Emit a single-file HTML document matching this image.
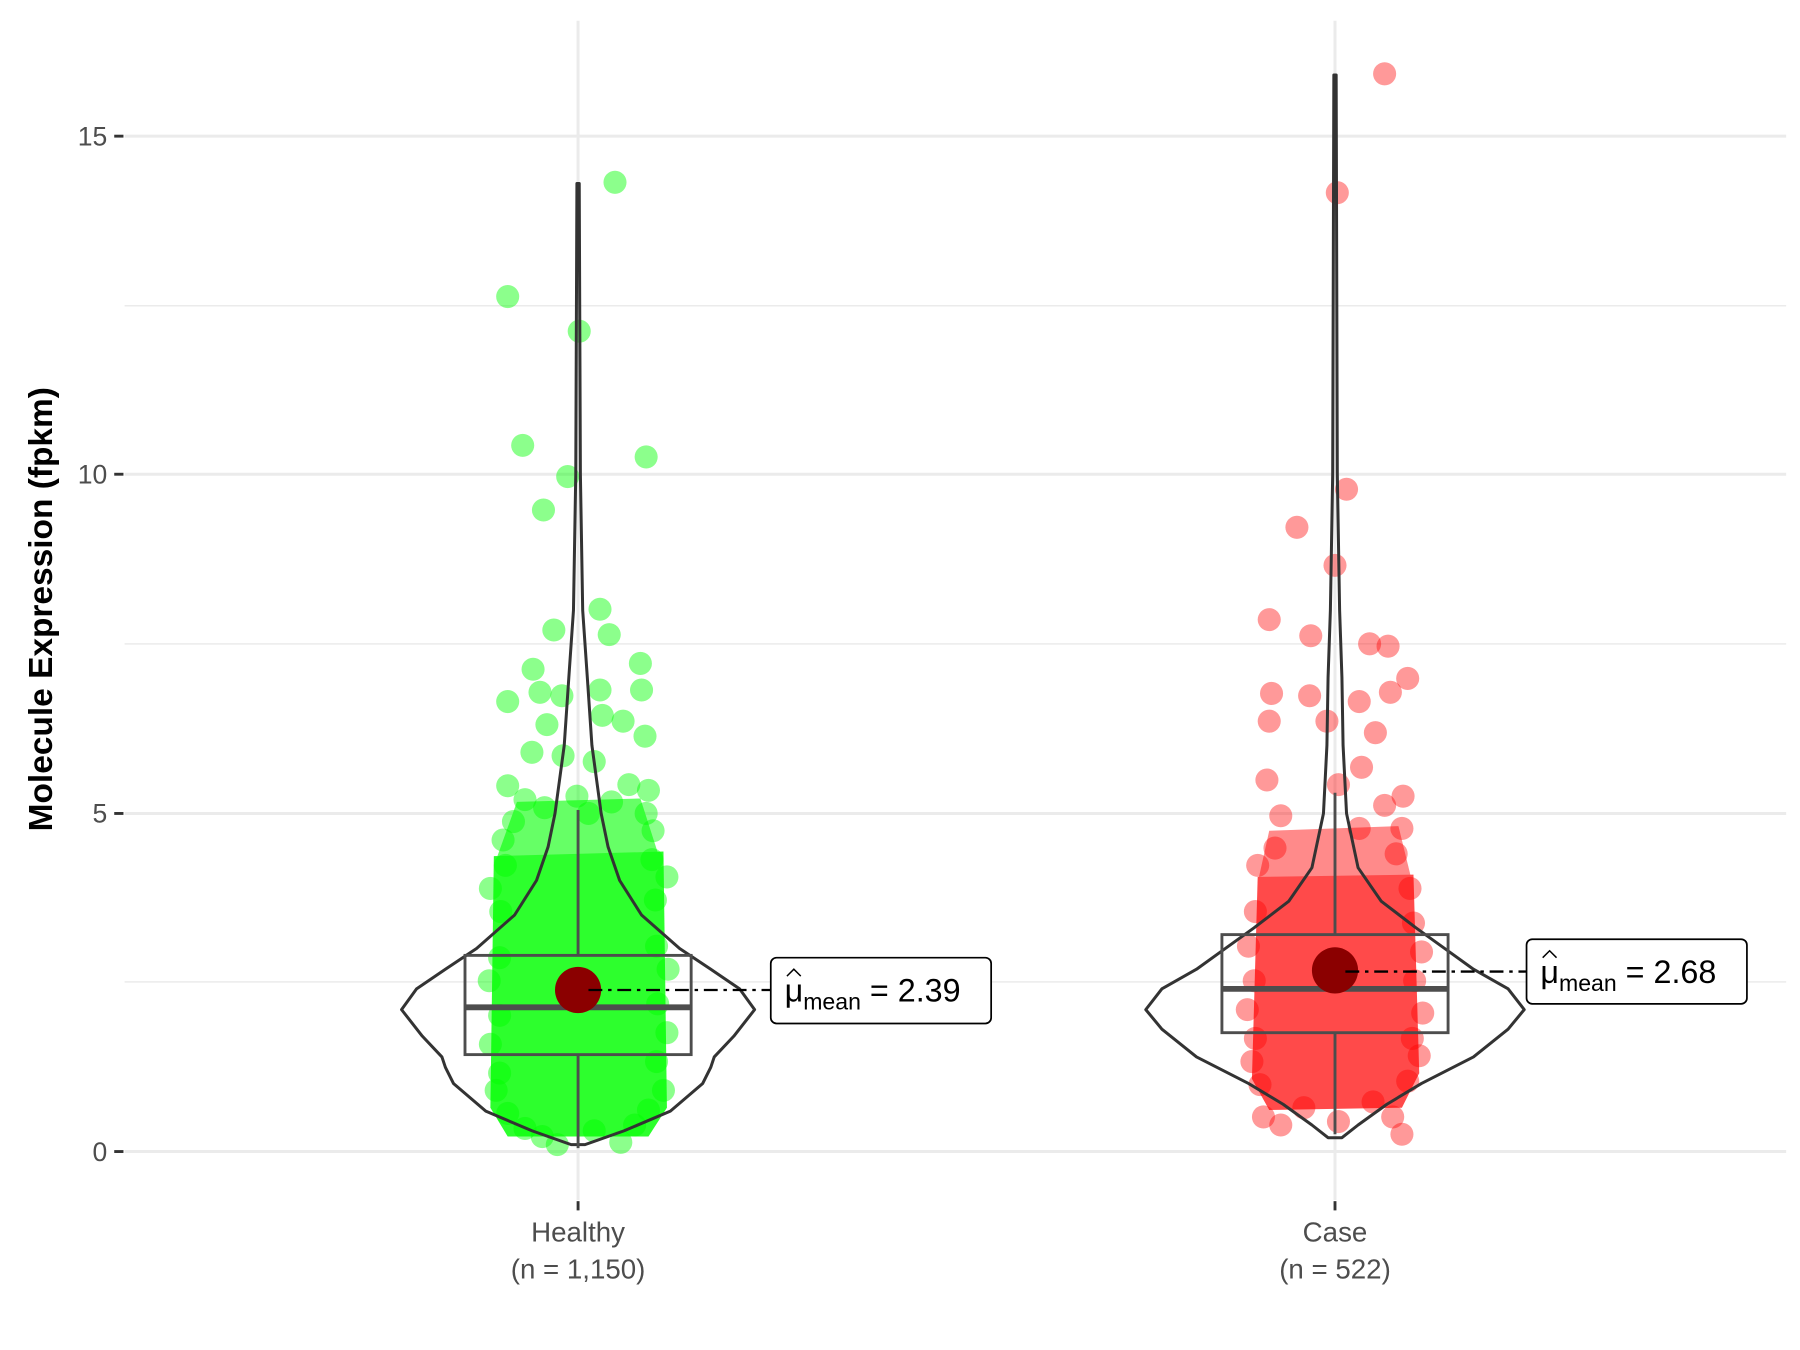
<!DOCTYPE html>
<html><head><meta charset="utf-8"><style>html,body{margin:0;padding:0;background:#fff}svg{display:block}</style></head>
<body>
<svg xmlns="http://www.w3.org/2000/svg" width="1800" height="1350" viewBox="0 0 1560 1170" font-family="Liberation Sans, sans-serif">
<rect width="1560" height="1170" fill="#fff"/>
<g stroke="#ebebeb" stroke-width="1.3">
<line x1="108" x2="1548" y1="265" y2="265"/><line x1="108" x2="1548" y1="558" y2="558"/><line x1="108" x2="1548" y1="851" y2="851"/>
</g>
<g stroke="#ebebeb" stroke-width="2.6">
<line x1="108" x2="1548" y1="118" y2="118"/><line x1="108" x2="1548" y1="411" y2="411"/><line x1="108" x2="1548" y1="705" y2="705"/><line x1="108" x2="1548" y1="998" y2="998"/>
<line x1="501" x2="501" y1="18" y2="1040"/><line x1="1157" x2="1157" y1="18" y2="1040"/>
</g>
<g stroke="#333" stroke-width="2.5">
<line x1="99" x2="107" y1="118" y2="118"/><line x1="99" x2="107" y1="411" y2="411"/><line x1="99" x2="107" y1="705" y2="705"/><line x1="99" x2="107" y1="998" y2="998"/>
<line x1="501" x2="501" y1="1041" y2="1049"/><line x1="1157" x2="1157" y1="1041" y2="1049"/>
</g>
<g fill="#4d4d4d" font-size="23" text-anchor="end">
<text x="93" y="126">15</text><text x="93" y="419">10</text><text x="93" y="713">5</text><text x="93" y="1006">0</text>
</g>
<g fill="#4d4d4d" font-size="24" text-anchor="middle">
<text x="501" y="1076">Healthy</text><text x="501" y="1108">(n = 1,150)</text>
<text x="1157" y="1076">Case</text><text x="1157" y="1108">(n = 522)</text>
</g>
<text transform="translate(45,528) rotate(-90)" text-anchor="middle" font-size="29" font-weight="bold" fill="#000">Molecule Expression (fpkm)</text>

<!-- Healthy points -->
<path d="M448,695 L555,692 L572,745 L430,745 Z" fill="#66ff66"/>
<path d="M428,742 L575,738 L578,960 L562,985 L440,985 L425,960 Z" fill="#2dff2d"/>
<g fill="#00ff00" fill-opacity="0.45">
<circle cx="533" cy="158" r="10"/><circle cx="440" cy="257" r="10"/><circle cx="502" cy="287" r="10"/><circle cx="453" cy="386" r="10"/><circle cx="560" cy="396" r="10"/><circle cx="492" cy="413" r="10"/><circle cx="471" cy="442" r="10"/><circle cx="520" cy="528" r="10"/><circle cx="480" cy="546" r="10"/>
<circle cx="528" cy="550" r="10"/><circle cx="555" cy="575" r="10"/><circle cx="462" cy="580" r="10"/><circle cx="556" cy="598" r="10"/><circle cx="440" cy="608" r="10"/><circle cx="468" cy="600" r="10"/><circle cx="520" cy="598" r="10"/><circle cx="487" cy="603" r="10"/>
<circle cx="474" cy="628" r="10"/><circle cx="522" cy="620" r="10"/><circle cx="559" cy="638" r="10"/><circle cx="540" cy="625" r="10"/><circle cx="461" cy="652" r="10"/><circle cx="515" cy="660" r="10"/><circle cx="488" cy="655" r="10"/>
<circle cx="440" cy="681" r="10"/><circle cx="562" cy="685" r="10"/><circle cx="545" cy="680" r="10"/><circle cx="455" cy="693" r="10"/><circle cx="500" cy="690" r="10"/><circle cx="530" cy="695" r="10"/><circle cx="472" cy="700" r="10"/>
<circle cx="436" cy="728" r="10"/><circle cx="566" cy="720" r="10"/><circle cx="438" cy="750" r="10"/><circle cx="565" cy="745" r="10"/><circle cx="434" cy="790" r="10"/><circle cx="568" cy="780" r="10"/><circle cx="433" cy="830" r="10"/><circle cx="569" cy="820" r="10"/>
<circle cx="433" cy="880" r="10"/><circle cx="570" cy="870" r="10"/><circle cx="433" cy="930" r="10"/><circle cx="569" cy="920" r="10"/><circle cx="440" cy="965" r="10"/><circle cx="562" cy="962" r="10"/>
<circle cx="483" cy="992" r="10"/><circle cx="538" cy="990" r="10"/><circle cx="455" cy="978" r="10"/><circle cx="515" cy="980" r="10"/><circle cx="550" cy="975" r="10"/><circle cx="470" cy="985" r="10"/>
<circle cx="425" cy="770" r="10"/><circle cx="578" cy="760" r="10"/><circle cx="424" cy="850" r="10"/><circle cx="579" cy="840" r="10"/><circle cx="425" cy="905" r="10"/><circle cx="578" cy="895" r="10"/><circle cx="430" cy="945" r="10"/><circle cx="575" cy="945" r="10"/>
<circle cx="445" cy="712" r="10"/><circle cx="560" cy="705" r="10"/><circle cx="510" cy="705" r="10"/>
</g>

<!-- Case points -->
<path d="M1100,720 L1212,716 L1224,765 L1090,765 Z" fill="#ff8a8a"/>
<path d="M1090,760 L1225,758 L1230,930 L1215,960 L1100,962 L1085,935 Z" fill="#ff4a4a"/>
<g fill="#ff0000" fill-opacity="0.4">
<circle cx="1200" cy="64" r="10"/><circle cx="1159" cy="167" r="10"/><circle cx="1167" cy="424" r="10"/><circle cx="1124" cy="457" r="10"/><circle cx="1157" cy="490" r="10"/><circle cx="1100" cy="537" r="10"/><circle cx="1136" cy="551" r="10"/><circle cx="1187" cy="558" r="10"/><circle cx="1203" cy="560" r="10"/><circle cx="1220" cy="588" r="10"/>
<circle cx="1102" cy="601" r="10"/><circle cx="1135" cy="603" r="10"/><circle cx="1178" cy="608" r="10"/><circle cx="1100" cy="625" r="10"/><circle cx="1192" cy="635" r="10"/><circle cx="1150" cy="625" r="10"/><circle cx="1205" cy="600" r="10"/>
<circle cx="1098" cy="676" r="10"/><circle cx="1216" cy="690" r="10"/><circle cx="1110" cy="707" r="10"/><circle cx="1180" cy="665" r="10"/><circle cx="1160" cy="680" r="10"/><circle cx="1200" cy="698" r="10"/><circle cx="1215" cy="718" r="10"/><circle cx="1178" cy="718" r="10"/>
<circle cx="1090" cy="750" r="10"/><circle cx="1105" cy="735" r="10"/><circle cx="1210" cy="740" r="10"/><circle cx="1222" cy="770" r="10"/><circle cx="1088" cy="790" r="10"/><circle cx="1225" cy="800" r="10"/><circle cx="1087" cy="850" r="10"/><circle cx="1226" cy="850" r="10"/>
<circle cx="1088" cy="900" r="10"/><circle cx="1224" cy="900" r="10"/><circle cx="1092" cy="940" r="10"/><circle cx="1220" cy="937" r="10"/>
<circle cx="1095" cy="968" r="10"/><circle cx="1110" cy="975" r="10"/><circle cx="1160" cy="972" r="10"/><circle cx="1207" cy="968" r="10"/><circle cx="1215" cy="983" r="10"/><circle cx="1130" cy="960" r="10"/><circle cx="1190" cy="955" r="10"/>
<circle cx="1082" cy="820" r="10"/><circle cx="1232" cy="825" r="10"/><circle cx="1081" cy="875" r="10"/><circle cx="1233" cy="878" r="10"/><circle cx="1085" cy="920" r="10"/><circle cx="1230" cy="915" r="10"/>
</g>

<!-- violins -->
<g fill="none" stroke="#333" stroke-width="2.6" stroke-linejoin="round">
<polygon points="507,992 541,980 581,963 609,939 616,925 619,916 636,898 654,875 641,857 616,840 589,822 556,793 537,763 527,734 521,705 513,646 509,587 505,529 503,411 502,159 500,159 499,411 497,529 493,587 489,646 481,705 475,734 465,763 446,793 413,822 386,840 361,857 348,875 366,898 383,916 386,925 393,939 421,963 461,980 495,992"/>
<polygon points="1163,986 1177,975 1202,957 1232,939 1277,916 1307,892 1321,875 1307,857 1277,840 1252,822 1227,804 1197,781 1177,752 1167,705 1164,646 1163,587 1161,529 1159,411 1158,65 1156,65 1155,411 1153,529 1151,587 1150,646 1147,705 1137,752 1117,781 1087,804 1062,822 1037,840 1007,857 993,875 1007,892 1037,916 1082,939 1112,957 1137,975 1151,986"/>
</g>

<!-- boxes -->
<g stroke="#4d4d4d" stroke-width="2.5" fill="none">
<line x1="501" x2="501" y1="702" y2="828"/><line x1="501" x2="501" y1="914" y2="995"/>
<rect x="403" y="828" width="196" height="86"/>
<line x1="403" x2="599" y1="873" y2="873" stroke-width="5"/>
<line x1="1157" x2="1157" y1="687" y2="810"/><line x1="1157" x2="1157" y1="895" y2="983"/>
<rect x="1059" y="810" width="196" height="85"/>
<line x1="1059" x2="1255" y1="857" y2="857" stroke-width="5"/>
</g>
<circle cx="501" cy="858" r="20" fill="#8b0000"/>
<circle cx="1157" cy="841" r="20" fill="#8b0000"/>

<g font-size="28" fill="#000">
<line x1="510" y1="858" x2="668" y2="858" stroke="#000" stroke-width="2" stroke-dasharray="12,5,3,5"/>
<rect x="668" y="830" width="191" height="57" rx="5" fill="#fff" stroke="#000" stroke-width="1.5"/>
<text x="680" y="868">μ<tspan font-size="20" dy="7">mean</tspan><tspan dy="-7"> = 2.39</tspan></text>
<path d="M682,846 L688,840 L694,846" fill="none" stroke="#000" stroke-width="1.3"/>
<line x1="1166" y1="842" x2="1323" y2="842" stroke="#000" stroke-width="2" stroke-dasharray="12,5,3,5"/>
<rect x="1323" y="814" width="191" height="56" rx="5" fill="#fff" stroke="#000" stroke-width="1.5"/>
<text x="1335" y="852">μ<tspan font-size="20" dy="7">mean</tspan><tspan dy="-7"> = 2.68</tspan></text>
<path d="M1337,830 L1343,824 L1349,830" fill="none" stroke="#000" stroke-width="1.3"/>
</g>
</svg>
</body></html>
